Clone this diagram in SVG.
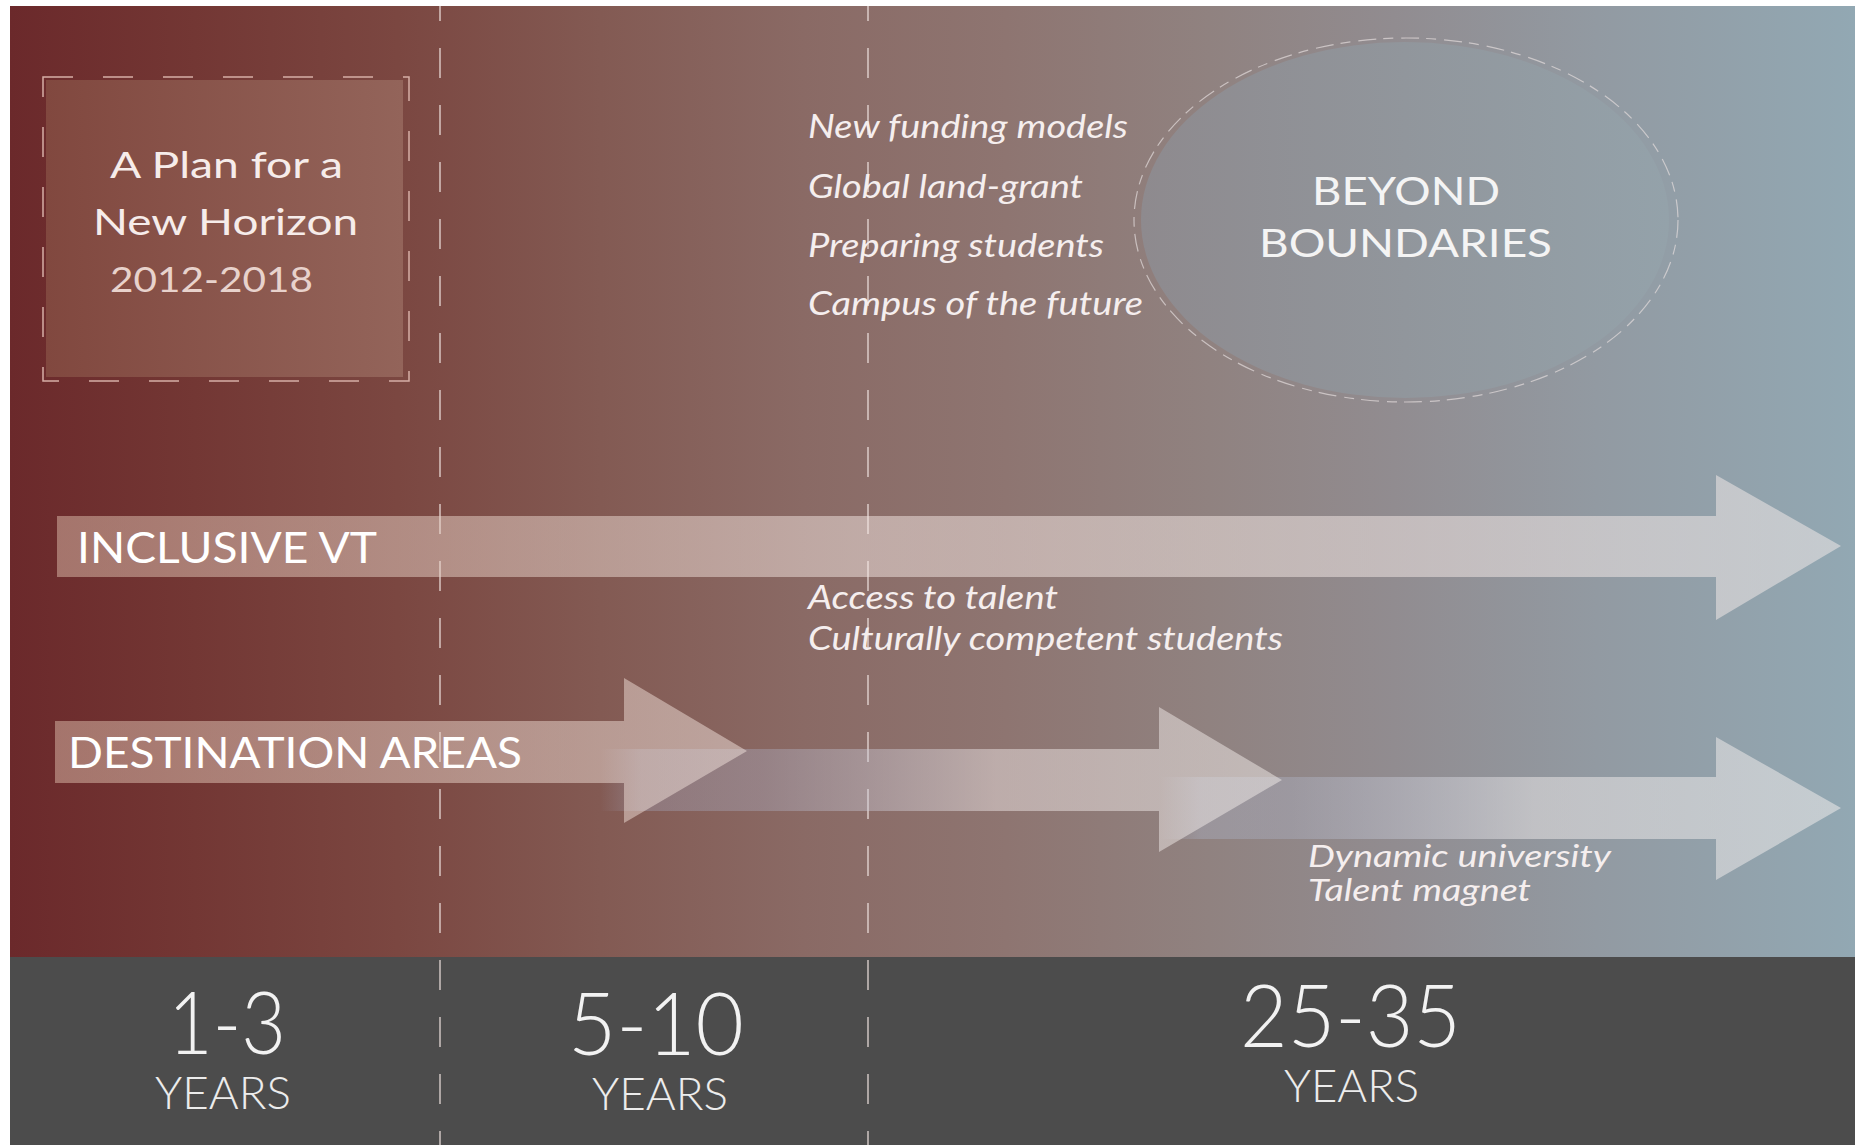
<svg xmlns="http://www.w3.org/2000/svg" width="1855" height="1145" viewBox="0 0 1855 1145">
<defs>
<linearGradient id="bg" gradientUnits="userSpaceOnUse" x1="10" y1="0" x2="1855" y2="0">
<stop offset="0" stop-color="#6b292b"/>
<stop offset="0.1" stop-color="#733734"/>
<stop offset="0.21" stop-color="#7b4741"/>
<stop offset="0.32" stop-color="#835a53"/>
<stop offset="0.43" stop-color="#8a6a65"/>
<stop offset="0.54" stop-color="#8e7571"/>
<stop offset="0.65" stop-color="#908280"/>
<stop offset="0.75" stop-color="#918c90"/>
<stop offset="0.86" stop-color="#929aa2"/>
<stop offset="1" stop-color="#92a8b3"/>
</linearGradient>
<linearGradient id="boxfill" x1="0" y1="0" x2="1" y2="0">
<stop offset="0" stop-color="#81483f"/>
<stop offset="1" stop-color="#93645a"/>
</linearGradient>
<linearGradient id="ellfill" x1="0" y1="0" x2="1" y2="0">
<stop offset="0" stop-color="#8e8a8e"/>
<stop offset="1" stop-color="#94a2aa"/>
</linearGradient>
<linearGradient id="arrowMain" gradientUnits="userSpaceOnUse" x1="55" y1="0" x2="1841" y2="0">
<stop offset="0" stop-color="#dcbcaa"/>
<stop offset="0.25" stop-color="#ead6cc"/>
<stop offset="0.45" stop-color="#f5e8e4"/>
<stop offset="1" stop-color="#f8eeec"/>
</linearGradient>
<linearGradient id="arrow2g" gradientUnits="userSpaceOnUse" x1="600" y1="0" x2="1282" y2="0">
<stop offset="0" stop-color="#a8b4d0" stop-opacity="0"/>
<stop offset="0.06" stop-color="#a8b4d0" stop-opacity="0.3"/>
<stop offset="0.24" stop-color="#b4bcd4" stop-opacity="0.32"/>
<stop offset="0.58" stop-color="#ece4e4" stop-opacity="0.5"/>
<stop offset="1" stop-color="#f3edea" stop-opacity="0.5"/>
</linearGradient>
<linearGradient id="arrow3g" gradientUnits="userSpaceOnUse" x1="1160" y1="0" x2="1841" y2="0">
<stop offset="0" stop-color="#b4c2dc" stop-opacity="0"/>
<stop offset="0.06" stop-color="#b4c2dc" stop-opacity="0.3"/>
<stop offset="0.19" stop-color="#b8c2da" stop-opacity="0.3"/>
<stop offset="0.55" stop-color="#f0ecec" stop-opacity="0.5"/>
<stop offset="1" stop-color="#f8f2f0" stop-opacity="0.5"/>
</linearGradient>
</defs>
<style>
.t{font-family:Lato,"Liberation Sans",sans-serif;}
.it{font-family:Lato,"Liberation Sans",sans-serif;font-style:italic;fill:#f5eeee;}
.cap{font-family:Lato,"Liberation Sans",sans-serif;fill:#ffffff;font-size:43px;}
.num{font-family:Lato,"Liberation Sans",sans-serif;font-weight:300;fill:#f2f2f2;font-size:86px;}
.yrs{font-family:Lato,"Liberation Sans",sans-serif;font-weight:300;fill:#ececec;font-size:46px;}
.divider{stroke:#f0e4e0;stroke-opacity:0.75;stroke-width:1.6;stroke-dasharray:30 27;stroke-dashoffset:15;fill:none;}
.arrowMain{fill:url(#arrowMain);fill-opacity:0.5;}
</style>
<rect x="0" y="0" width="1855" height="1145" fill="#ffffff"/>
<rect x="10" y="6" width="1845" height="951" fill="url(#bg)"/>
<rect x="10" y="957" width="1845" height="188" fill="#4c4c4c"/>

<g id="dividers">
<line class="divider" x1="440" y1="6" x2="440" y2="1145"/>
<line class="divider" x1="868" y1="6" x2="868" y2="1145"/>
</g>

<g id="plan-box">
<rect x="46" y="80" width="357" height="297" fill="url(#boxfill)"/>
<rect x="43" y="77" width="366" height="304" fill="none" stroke="#d6aea6" stroke-width="1.5" stroke-dasharray="30 30"/>
<text class="t" x="110" y="178" font-size="37" fill="#f6ecea" textLength="233" lengthAdjust="spacingAndGlyphs">A Plan for a</text>
<text class="t" x="93" y="235" font-size="37" fill="#f6ecea" textLength="265" lengthAdjust="spacingAndGlyphs">New Horizon</text>
<text class="t" x="110" y="292" font-size="35" fill="#e8d2cc" textLength="203" lengthAdjust="spacingAndGlyphs">2012-2018</text>
</g>

<g id="goals-list">
<text class="it" x="808" y="138" font-size="32" textLength="320" lengthAdjust="spacingAndGlyphs">New funding models</text>
<text class="it" x="808" y="198" font-size="32" textLength="275" lengthAdjust="spacingAndGlyphs">Global land-grant</text>
<text class="it" x="808" y="257" font-size="32" textLength="296" lengthAdjust="spacingAndGlyphs">Preparing students</text>
<text class="it" x="808" y="315" font-size="32" textLength="335" lengthAdjust="spacingAndGlyphs">Campus of the future</text>
</g>

<g id="beyond-boundaries">
<ellipse cx="1405" cy="220" rx="264" ry="178" fill="url(#ellfill)"/>
<ellipse cx="1406" cy="220" rx="272" ry="182" fill="none" stroke="#e2dcdc" stroke-opacity="0.7" stroke-width="1.2" stroke-dasharray="18 7 10 8"/>
<text class="t" x="1312" y="205" font-size="39" fill="#f4f4f4" textLength="188" lengthAdjust="spacingAndGlyphs">BEYOND</text>
<text class="t" x="1259" y="257" font-size="39" fill="#f4f4f4" textLength="293" lengthAdjust="spacingAndGlyphs">BOUNDARIES</text>
</g>

<g id="connectors">
<g id="inclusive-vt">
<polygon class="arrowMain" points="57,516 1716,516 1716,475 1841,546 1716,620 1716,577 57,577"/>
<text class="cap" x="77" y="563" textLength="300" lengthAdjust="spacingAndGlyphs">INCLUSIVE VT</text>
</g>
<g id="destination-areas-3">
<polygon fill="url(#arrow3g)" points="1160,777 1716,777 1716,737 1841,808 1716,880 1716,839 1160,839"/>
</g>
<g id="destination-areas-2">
<polygon fill="url(#arrow2g)" points="600,749 1159,749 1159,707 1282,780 1159,852 1159,811 600,811"/>
</g>
<g id="destination-areas-1">
<polygon class="arrowMain" points="55,721 624,721 624,678 747,751 624,823 624,783 55,783"/>
<text class="cap" x="68" y="768" textLength="454" lengthAdjust="spacingAndGlyphs">DESTINATION AREAS</text>
</g>
</g>

<g id="inclusive-notes">
<text class="it" x="808" y="609" font-size="33" textLength="250" lengthAdjust="spacingAndGlyphs">Access to talent</text>
<text class="it" x="808" y="650" font-size="33" textLength="475" lengthAdjust="spacingAndGlyphs">Culturally competent students</text>
</g>

<g id="destination-notes">
<text class="it" x="1308" y="867" font-size="30" textLength="303" lengthAdjust="spacingAndGlyphs">Dynamic university</text>
<text class="it" x="1308" y="901" font-size="30" textLength="223" lengthAdjust="spacingAndGlyphs">Talent magnet</text>
</g>

<g id="timeline">
<g id="t-1-3">
<text class="num" x="168" y="1054" textLength="118" lengthAdjust="spacingAndGlyphs">1-3</text>
<text class="yrs" x="155" y="1109" textLength="136" lengthAdjust="spacingAndGlyphs">YEARS</text>
</g>
<g id="t-5-10">
<text class="num" x="568" y="1055" textLength="176" lengthAdjust="spacingAndGlyphs">5-10</text>
<text class="yrs" x="592" y="1110" textLength="136" lengthAdjust="spacingAndGlyphs">YEARS</text>
</g>
<g id="t-25-35">
<text class="num" x="1240" y="1047" textLength="221" lengthAdjust="spacingAndGlyphs">25-35</text>
<text class="yrs" x="1284" y="1102" textLength="135" lengthAdjust="spacingAndGlyphs">YEARS</text>
</g>
</g>
</svg>
